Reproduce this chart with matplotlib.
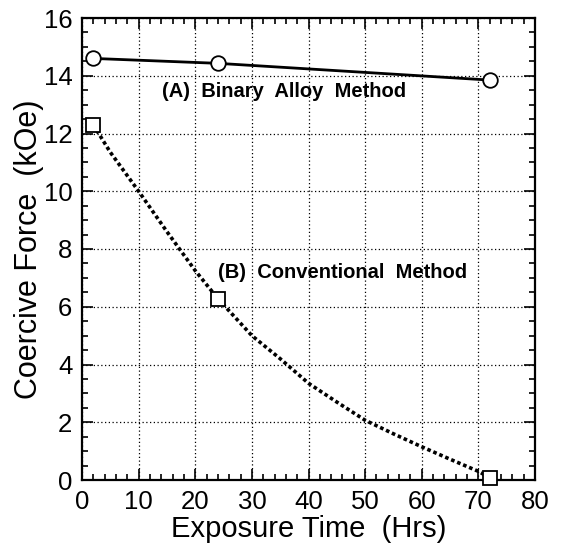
import numpy as np
import matplotlib.pyplot as plt
from matplotlib.ticker import MultipleLocator

plt.rcParams['font.family'] = ['Liberation Sans', 'DejaVu Sans']

# measured points
time_a = [2, 24, 72]
force_a = [14.6, 14.43, 13.85]

time_b = [2, 24, 72]
force_b = [12.3, 6.28, 0.08]

# dotted curve through series B
curve_t = [2, 5, 10, 15, 20, 24, 30, 35, 40, 45, 50, 55, 60, 65, 70, 72]
curve_f = [12.3, 11.35, 10.0, 8.6, 7.25, 6.28, 5.0, 4.2, 3.35, 2.7, 2.07, 1.6, 1.15, 0.72, 0.3, 0.08]

fig = plt.figure(figsize=(5.61, 5.51), dpi=100)
ax = fig.add_axes([82/561, 1 - 480/551, 453/561, 462/551])

ax.plot(curve_t, curve_f, color='black', linestyle=(0, (1, 0.8)), linewidth=2.6, zorder=3)
ax.plot(time_b, force_b, linestyle='none', marker='s', markersize=10.5, clip_on=False,
        markerfacecolor='white', markeredgecolor='black', markeredgewidth=1.3, zorder=4)
ax.plot(time_a, force_a, color='black', linewidth=2, marker='o', markersize=10.5,
        markerfacecolor='white', markeredgecolor='black', markeredgewidth=1.3, zorder=4)

ax.text(14.1, 13.25, '(A)  Binary  Alloy  Method', fontsize=14.5, fontweight='bold')
ax.text(24, 6.99, '(B)  Conventional  Method', fontsize=14.5, fontweight='bold')

ax.set_xlim(0, 80)
ax.set_ylim(0, 16)
ax.xaxis.set_major_locator(MultipleLocator(10))
ax.xaxis.set_minor_locator(MultipleLocator(2))
ax.yaxis.set_major_locator(MultipleLocator(2))
ax.yaxis.set_minor_locator(MultipleLocator(0.5))
ax.tick_params(which='both', direction='in', top=True, right=True, width=1.2)
ax.tick_params(which='major', length=8, labelsize=18.5)
ax.tick_params(axis='y', which='major', pad=7)
ax.tick_params(axis='x', which='major', pad=7)
ax.tick_params(which='minor', length=4)
ax.grid(True, which='major', color='black', linestyle=(0, (1, 2)), linewidth=0.9)
for s in ax.spines.values():
    s.set_linewidth(1.6)

ax.set_xlabel('Exposure Time  (Hrs)', fontsize=21, labelpad=1)
ax.set_ylabel('Coercive Force  (kOe)', fontsize=22, labelpad=0)

fig.savefig('out.png', dpi=100)
